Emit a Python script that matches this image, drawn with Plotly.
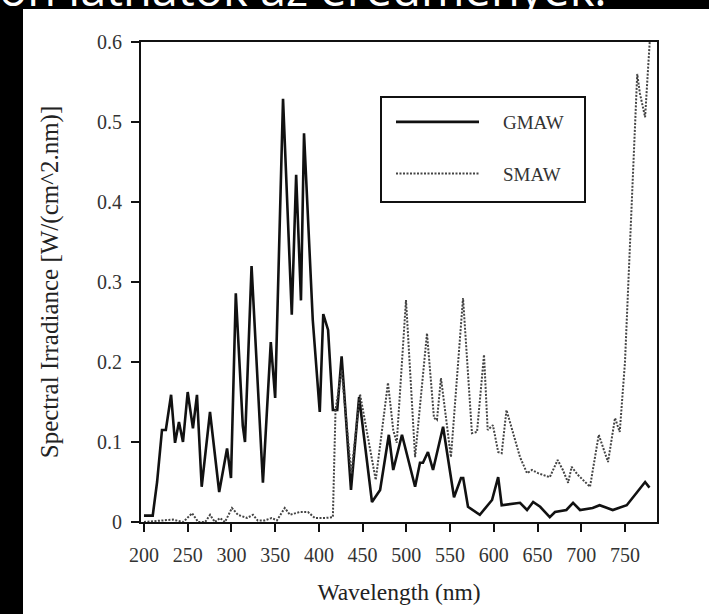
import plotly.graph_objects as go

# ---- data ----
gmaw_wavelength = [200, 210, 215, 220.6, 225, 231, 235.5, 240, 244.6, 250, 256, 260.6, 266, 275.5,
                   286, 295, 299.5, 305, 313, 315.5, 323, 336, 345, 350, 359, 369, 374, 379.5, 383,
                   393, 401, 405, 410.5, 416, 421, 426, 436.7, 446, 460.7, 470, 480, 485, 495, 510,
                   515.6, 519, 524.7, 530.5, 542, 547.6, 554.5, 562.5, 565, 570.5, 584, 598, 605,
                   609, 630, 638, 645, 653, 664, 670, 683, 690.6, 698.6, 713, 721, 736, 752, 764,
                   773, 778]
gmaw_irradiance = [0.008, 0.008, 0.05, 0.115, 0.115, 0.159, 0.099, 0.125, 0.10, 0.1625, 0.117, 0.159,
                   0.044, 0.1375, 0.0375, 0.092, 0.055, 0.286, 0.12, 0.10, 0.32, 0.049, 0.225, 0.155,
                   0.529, 0.259, 0.434, 0.277, 0.486, 0.2525, 0.1375, 0.26, 0.24, 0.14, 0.14, 0.207,
                   0.04, 0.156, 0.025, 0.04, 0.109, 0.065, 0.109, 0.044, 0.074, 0.074, 0.0875, 0.065,
                   0.119, 0.081, 0.031, 0.055, 0.055, 0.019, 0.009, 0.0275, 0.056, 0.021, 0.024,
                   0.015, 0.025, 0.019, 0.006, 0.0125, 0.015, 0.024, 0.015, 0.0175, 0.021, 0.015,
                   0.021, 0.0375, 0.05, 0.043]

smaw_wavelength = [200, 233, 245, 255, 262, 270, 275.6, 281, 287, 292.6, 300.6, 307.5, 317.8, 324.6,
                   330, 338, 346, 352, 361, 367, 378, 387.5, 395.5, 407, 416, 419, 426, 437, 447,
                   465, 479, 485, 489, 499.6, 510, 523.6, 531.6, 535, 539.6, 546.5, 551, 564.8, 575,
                   580.8, 588.8, 593, 599, 605, 609, 614.5, 624, 630, 638, 643.7, 650.6, 664, 673,
                   679, 685, 689, 696, 710, 720, 730.6, 738.6, 744, 750, 757, 764, 767, 773, 776, 780]
smaw_irradiance = [0.0, 0.003, 0.0, 0.011, 0.0, 0.0, 0.009, 0.0, 0.005, 0.0, 0.0175, 0.009, 0.005,
                   0.009, 0.002, 0.002, 0.005, 0.002, 0.0175, 0.009, 0.0125, 0.0125, 0.005, 0.005,
                   0.006, 0.14, 0.19, 0.06, 0.16, 0.0525, 0.174, 0.115, 0.099, 0.2775, 0.081, 0.236,
                   0.13, 0.1275, 0.18, 0.119, 0.081, 0.28, 0.111, 0.1125, 0.209, 0.115, 0.121, 0.0875,
                   0.086, 0.14, 0.1025, 0.081, 0.061, 0.065, 0.061, 0.056, 0.0775, 0.065, 0.049,
                   0.069, 0.059, 0.044, 0.109, 0.075, 0.13, 0.1125, 0.2, 0.38, 0.56, 0.536, 0.506,
                   0.56, 0.63]

x_ticks = [200, 250, 300, 350, 400, 450, 500, 550, 600, 650, 700, 750]
y_ticks = [0, 0.1, 0.2, 0.3, 0.4, 0.5, 0.6]
y_tick_labels = ["0", "0.1", "0.2", "0.3", "0.4", "0.5", "0.6"]

series_names = ["GMAW", "SMAW"]
x_title = "Wavelength (nm)"
y_title = "Spectral Irradiance [W/(cm^2.nm)]"
banner_text = "on láthatók az eredmények."

SERIF = "Liberation Serif, Times New Roman, serif"
NBSP = "\u00a0"

fig = go.Figure()
fig.add_trace(go.Scatter(x=gmaw_wavelength, y=gmaw_irradiance, mode="lines",
                         name=NBSP * 4 + series_names[0], legendgroup="g",
                         line=dict(color="#111111", width=2.6)))
fig.add_trace(go.Scatter(x=smaw_wavelength, y=smaw_irradiance, mode="lines",
                         name=NBSP * 4 + series_names[1], legendgroup="s",
                         line=dict(color="#444444", width=2, dash="2px,1.5px")))

W, H = 709, 614
L, R, T, B = 141, 52, 42, 92
pw, ph = W - L - R, H - T - B


def px_x(p):
    return (p - L) / pw


def px_y(p):
    return (H - B - p) / ph


fig.update_layout(
    width=W, height=H,
    margin=dict(l=L, r=R, t=T, b=B),
    paper_bgcolor="white", plot_bgcolor="white",
    font=dict(family=SERIF, size=20, color="#222222"),
    showlegend=True,
    legend=dict(x=px_x(391), y=px_y(103), xanchor="left", yanchor="top",
                borderwidth=0, bgcolor="rgba(0,0,0,0)",
                font=dict(family=SERIF, size=19, color="#333333"),
                itemwidth=83, tracegroupgap=24),
    xaxis=dict(range=[196.6, 786.6], tickmode="array", tickvals=x_ticks,
               showgrid=False, zeroline=False, showline=True, linecolor="#111111", linewidth=2,
               mirror=True, ticks="outside", ticklen=8, tickwidth=2, tickcolor="#111111",
               ticklabelstandoff=6,
               tickfont=dict(family=SERIF, size=20, color="#333333"),
               title=dict(text=x_title, font=dict(family=SERIF, size=23.5, color="#222222"), standoff=19)),
    yaxis=dict(range=[0, 0.6], tickmode="array", tickvals=y_ticks, ticktext=y_tick_labels,
               showgrid=False, zeroline=False, showline=True, linecolor="#111111", linewidth=2,
               mirror=True, ticks="outside", ticklen=8, tickwidth=2, tickcolor="#111111",
               ticklabelstandoff=5,
               tickfont=dict(family=SERIF, size=20, color="#333333"),
               title=dict(text=y_title, font=dict(family=SERIF, size=25, color="#222222"), standoff=31)),
    shapes=[
        # legend frame
        dict(type="rect", xref="paper", yref="paper", x0=px_x(381), x1=px_x(585), y0=px_y(202), y1=px_y(97),
             fillcolor="rgba(0,0,0,0)", line=dict(color="#111111", width=2), layer="above"),
        # black page borders of the photographed slide
        dict(type="rect", xref="paper", yref="paper", x0=px_x(-5), x1=px_x(23), y0=px_y(H + 5), y1=px_y(-5),
             fillcolor="black", line=dict(width=0), layer="above"),
        dict(type="rect", xref="paper", yref="paper", x0=px_x(-5), x1=px_x(W + 5), y0=px_y(9), y1=px_y(-5),
             fillcolor="black", line=dict(width=0), layer="above"),
    ],
    annotations=[
        dict(text=banner_text, xref="paper", yref="paper", x=px_x(-3), y=px_y(22),
             xanchor="left", yanchor="bottom", showarrow=False,
             font=dict(family="Open Sans, sans-serif", size=47, color="white")),
    ],
)

fig.write_html("out.html", config={"displayModeBar": False},
               post_script="document.body.style.margin='0';document.body.style.overflow='hidden';")
